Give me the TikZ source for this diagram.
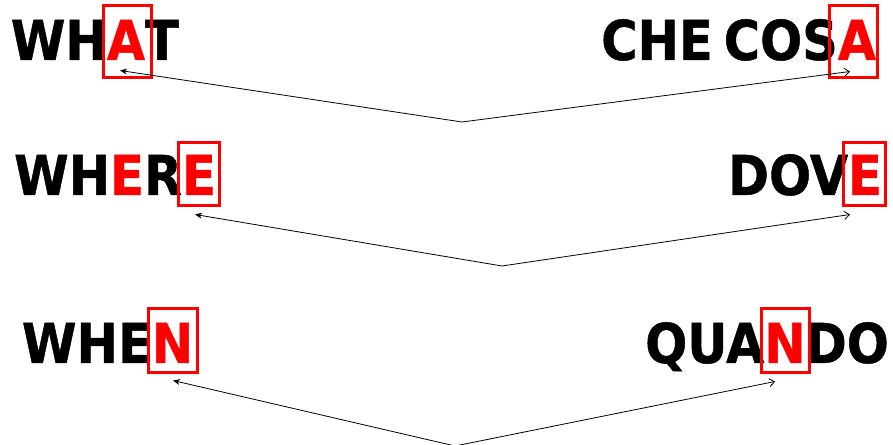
\documentclass[tikz,border=0pt]{standalone}
\usepackage{fontspec}
\newfontfamily\wordfont{DejaVu Sans}[FakeStretch=0.9, FakeBold=0.8]
\usetikzlibrary{arrows.meta,positioning}

\begin{document}
\begin{tikzpicture}[x=1pt,y=1pt,
  word/.style={font=\wordfont\bfseries\fontsize{55}{60}\selectfont, inner sep=0pt, outer sep=0pt},
  markbox/.style={draw=red, line width=3pt, inner sep=0pt},
  link/.style={line width=0.8pt}]
\useasboundingbox (0,0) rectangle (893,444);
% WHAT / CHE COSA
\node[word, text=red, anchor=base] (wA) at (126,384) {A};
\node[word, base left=0pt of wA] (wA0) {WH};
\node[word, base right=0pt of wA] (wA1) {T};
\node[word, text=red, anchor=base] (cA) at (857,384) {A};
\node[word, base left=0pt of cA] (cA0) {CHE\hspace{11pt}COS};
\node[markbox, minimum width=48pt, minimum height=72pt] (boxL1) at (127,402) {};
\node[markbox, minimum width=48pt, minimum height=72pt] (boxR1) at (853,402) {};
\coordinate (v1) at (462,322);
\draw[link, -{Stealth[length=7pt,width=6pt]}] (v1) -- ([shift={(-7,9)}]boxL1.south);
\draw[link, -{Straight Barb[length=5pt,width=8pt]}] (v1) -- ([shift={(-3,8)}]boxR1.south);
% WHERE / DOVE
\node[word, text=red, anchor=base] (wE) at (199,249) {E};
\node[word, base left=0pt of wE] (wE0) {WH\textcolor{red}{E}R};
\node[word, text=red, anchor=base] (dE) at (865,249) {E};
\node[word, base left=0pt of dE] (dE0) {DOV};
\node[markbox, minimum width=41pt, minimum height=63pt] (boxL2) at (198.5,269.5) {};
\node[markbox, minimum width=42pt, minimum height=63pt] (boxR2) at (864,269.5) {};
\coordinate (v2) at (502,178);
\draw[link, -{Stealth[length=7pt,width=6pt]}] (v2) -- ([shift={(-3.5,-7)}]boxL2.south);
\draw[link, -{Straight Barb[length=5pt,width=8pt]}] (v2) -- ([shift={(-14,-7)}]boxR2.south);
% WHEN / QUANDO
\node[word, text=red, anchor=base] (wN) at (172.5,81) {N};
\node[word, base left=0pt of wN] (wN0) {WHE};
\node[word, text=red, anchor=base] (qN) at (785,81) {N};
\node[word, base left=0pt of qN] (qN0) {QUA};
\node[word, base right=0pt of qN] (qN1) {DO};
\node[markbox, minimum width=49pt, minimum height=64pt] (boxL3) at (172.5,103) {};
\node[markbox, minimum width=48pt, minimum height=64pt] (boxR3) at (785,103) {};
\coordinate (v3) at (455,-2);
\draw[link, -{Stealth[length=7pt,width=6pt]}] (v3) -- ([shift={(0.5,-6)}]boxL3.south);
\draw[link, -{Straight Barb[length=5pt,width=8pt]}] (v3) -- ([shift={(-10,-7)}]boxR3.south);
\end{tikzpicture}
\end{document}
